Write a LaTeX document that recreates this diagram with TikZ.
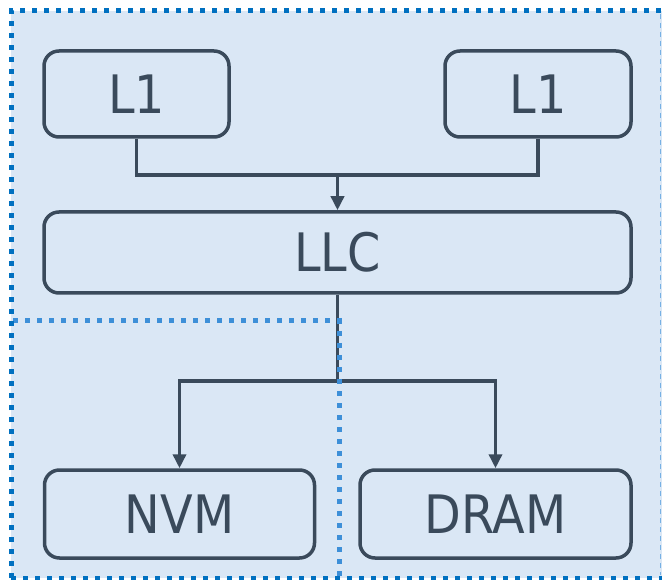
\documentclass[tikz,border=0pt]{standalone}
\usepackage{fontspec}
\setmainfont{DejaVu Sans Condensed}
\usetikzlibrary{arrows.meta}
\definecolor{panel}{HTML}{DAE7F5}
\definecolor{ink}{HTML}{3A4A5B}
\definecolor{edgeblue}{HTML}{0070C0}
\definecolor{zoneblue}{HTML}{3D8FD8}
\tikzset{
  unit/.style={draw=ink, line width=3.5pt, rounded corners=15pt, fill=panel,
    inner sep=0pt, text=ink, font=\fontsize{53}{60}\selectfont},
  link/.style={draw=ink, line width=3.5pt},
  linkarrow/.style={link, -{Triangle[length=14pt,width=13pt]}},
  outerdots/.style={draw=edgeblue, line width=5pt, dash pattern=on 5pt off 7pt},
  zonedots/.style={draw=zoneblue, line width=5pt, dash pattern=on 5pt off 7pt},
  rimdash/.style={draw=zoneblue!70, line width=1.5pt, dash pattern=on 5pt off 4pt}
}
\begin{document}
\begin{tikzpicture}[x=1pt,y=-1pt]
  \useasboundingbox (0,0) rectangle (662,580);
  % shaded package area
  \fill[panel] (11,11) rectangle (662,578);

  % cache and memory units
  \node[unit, minimum width=185pt, minimum height=86pt] (l1a) at (136.5,94) {L1};
  \node[unit, minimum width=186pt, minimum height=86pt] (l1b) at (538,94) {L1};
  \node[unit, minimum width=587pt, minimum height=81pt] (llc) at (337.5,252.5) {LLC};
  \node[unit, minimum width=270pt, minimum height=88pt] (nvm) at (179.5,514) {NVM};
  \node[unit, minimum width=271pt, minimum height=88pt] (dram) at (495.5,514) {DRAM};

  % bus junctions
  \coordinate (busup) at (337.5,175);
  \coordinate (busdown) at (337.5,381);

  % L1s merge into the LLC
  \draw[link] (l1a.south) -- (l1a.south |- busup) -- (l1b.south |- busup) -- (l1b.south);
  \draw[linkarrow] (busup) -- (llc.north);

  % LLC fans out to NVM and DRAM
  \draw[link] (llc.south) -- (busdown);
  \draw[linkarrow] (busdown) -| (nvm.north);
  \draw[linkarrow] (busdown) -| (dram.north);

  % NVM zone boundary
  \draw[zonedots] (13,321) -- (339,321) -- (339,578);

  % package boundary
  \draw[outerdots] (11,578) -- (11,11) -- (662,11);
  \draw[outerdots] (11,578) -- (662,578);
  \draw[rimdash] (660.5,14) -- (660.5,575);
\end{tikzpicture}
\end{document}
